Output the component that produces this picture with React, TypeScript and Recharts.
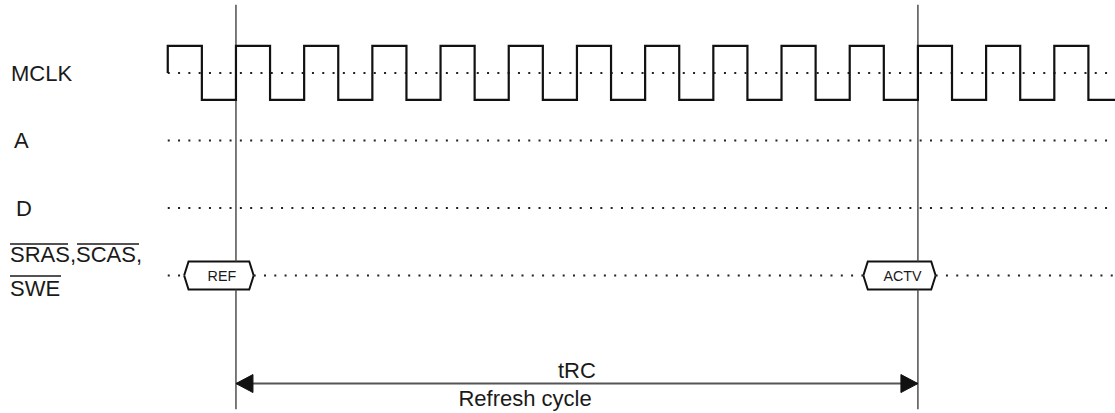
import React from 'react';
import { ComposedChart, Line, Area, XAxis, YAxis, Scatter } from 'recharts';

// time axis in clock cycles (0 = first marked rising edge)
const xDomain = [-3.46, 12.89];
const yDomain = [-12.59, 2.7];

// signal rows
const rowNames = ['MCLK', 'A', 'D', 'SRAS,SCAS,SWE'];
const rowLevels = [0, -2.5, -5, -7.5];
const traceStart = -1;
const traceEnd = 12.89;

// MCLK waveform (edge times and levels)
const clockTimes = [-1, -1, -0.5, 0, 0.5, 1, 1.5, 2, 2.5, 3, 3.5, 4, 4.5, 5, 5.5, 6, 6.5, 7, 7.5, 8, 8.5, 9, 9.5, 10, 10.5, 11, 11.5, 12, 12.5, 12.89];
const clockLevels = [0, 1, -1, 1, -1, 1, -1, 1, -1, 1, -1, 1, -1, 1, -1, 1, -1, 1, -1, 1, -1, 1, -1, 1, -1, 1, -1, 1, -1, -1];

// bus commands on SRAS/SCAS/SWE
const busLabels = ['REF', 'ACTV'];
const busStarts = [-0.76, 9.2];
const busEnds = [0.26, 10.26];

// timing markers
const markerTimes = [0, 10];
const markerTop = 2.52;
const markerBottom = -12.45;
const spanLabel = 'tRC';
const spanCaption = 'Refresh cycle';
const spanStart = 0;
const spanEnd = 10;
const spanLevel = -11.5;
const spanLabelT = 5;
const spanCaptionT = 4.24;

const FONT = '"Liberation Sans", Arial, Helvetica, sans-serif';
const HEX_H = 0.52;
const HEX_IN = 0.065;

const clockData = clockTimes.map((t, i) => ({ t, y: clockLevels[i] }));

const busLevel = rowLevels[3];

const dottedRows = rowLevels.map((lv, i) => {
  if (i !== 3) {
    return [{ t: traceStart, y: lv }, { t: traceEnd, y: lv }];
  }
  const pts: any[] = [{ t: traceStart, y: lv }];
  busStarts.forEach((s, k) => {
    pts.push({ t: s, y: lv });
    pts.push({ t: (s + busEnds[k]) / 2, y: null });
    pts.push({ t: busEnds[k], y: lv });
  });
  pts.push({ t: traceEnd, y: lv });
  return pts;
});

const hexData = busStarts.map((s, k) => {
  const e = busEnds[k];
  return [
    { t: s, r: [busLevel, busLevel] },
    { t: s + HEX_IN, r: [busLevel - HEX_H, busLevel + HEX_H] },
    { t: e - HEX_IN, r: [busLevel - HEX_H, busLevel + HEX_H] },
    { t: e, r: [busLevel, busLevel] },
  ];
});

const markerData = markerTimes.map((m) => [
  { t: m, y: markerTop },
  { t: m, y: busLevel + HEX_H },
  { t: m, y: null },
  { t: m, y: busLevel - HEX_H },
  { t: m, y: markerBottom },
]);

const busTextData = busLabels.map((label, k) => ({ t: (busStarts[k] + busEnds[k]) / 2, y: busLevel, label }));

const rowLabelData = rowNames.map((name, i) => ({ t: xDomain[0], y: rowLevels[i], name }));

const spanTextData = [
  { t: spanLabelT, y: spanLevel, label: spanLabel, pos: 'above' },
  { t: spanCaptionT, y: spanLevel, label: spanCaption, pos: 'below' },
];

const arrowData = [
  { t: spanStart, y: spanLevel, dir: -1 },
  { t: spanEnd, y: spanLevel, dir: 1 },
];

const labelDx: Record<string, number> = { MCLK: 11, A: 14, D: 16 };

const RowLabel = (props: any) => {
  const { cx, cy, payload } = props;
  const name = payload.name;
  const common = { fontFamily: FONT, fontSize: 22, fill: '#1a1a1a' } as any;
  if (name.startsWith('SRAS')) {
    const x0 = cx + 10;
    const b1 = cy - 13.5;
    const b2 = cy + 20.5;
    return (
      <g>
        <text x={x0} y={b1} {...common}>SRAS,SCAS,</text>
        <text x={x0} y={b2} {...common}>SWE</text>
        <line x1={x0} x2={x0 + 58} y1={b1 - 18} y2={b1 - 18} stroke="#1a1a1a" strokeWidth={1.5} />
        <line x1={x0 + 67} x2={x0 + 129} y1={b1 - 18} y2={b1 - 18} stroke="#1a1a1a" strokeWidth={1.5} />
        <line x1={x0} x2={x0 + 51} y1={b2 - 20} y2={b2 - 20} stroke="#1a1a1a" strokeWidth={1.5} />
      </g>
    );
  }
  return (
    <text x={cx + (labelDx[name] ?? 11)} y={cy + 8} {...common}>
      {name}
    </text>
  );
};

const BusText = (props: any) => {
  const { cx, cy, payload } = props;
  return (
    <text x={cx + 3} y={cy + 5} textAnchor="middle" fontFamily={FONT} fontSize={14.3} fill="#1a1a1a">
      {payload.label}
    </text>
  );
};

const SpanText = (props: any) => {
  const { cx, cy, payload } = props;
  return (
    <text
      x={cx}
      y={payload.pos === 'above' ? cy - 6 : cy + 22}
      textAnchor="middle"
      fontFamily={FONT}
      fontSize={22}
      fill="#1a1a1a"
    >
      {payload.label}
    </text>
  );
};

const ArrowHead = (props: any) => {
  const { cx, cy, payload } = props;
  const d = payload.dir;
  const L = 17;
  const H = 9;
  const pts = `${cx},${cy} ${cx - d * L},${cy - H} ${cx - d * L},${cy + H}`;
  return <polygon points={pts} fill="#111" stroke="#111" strokeWidth={1} strokeLinejoin="round" />;
};

export default function App() {
  return (
    <div style={{ position: 'absolute', left: 0, top: 0, width: 1115, height: 413, background: '#fff' }}>
      <ComposedChart width={1115} height={413} margin={{ top: 0, right: 0, bottom: 0, left: 0 }}>
        <XAxis dataKey="t" type="number" domain={xDomain} hide allowDataOverflow />
        <YAxis type="number" domain={yDomain} hide allowDataOverflow />
        {hexData.map((d, i) => (
          <Area
            key={'hex' + i}
            data={d}
            dataKey="r"
            type="linear"
            stroke="#111"
            strokeWidth={2}
            fill="#fff"
            fillOpacity={1}
            dot={false}
            activeDot={false}
            isAnimationActive={false}
          />
        ))}
        {dottedRows.map((d, i) => (
          <Line
            key={'row' + i}
            data={d}
            dataKey="y"
            stroke="#222"
            strokeWidth={2}
            strokeDasharray="2 8.3"
            dot={false}
            activeDot={false}
            connectNulls={false}
            isAnimationActive={false}
            type="linear"
          />
        ))}
        {markerData.map((d, i) => (
          <Line
            key={'m' + i}
            data={d}
            dataKey="y"
            type="linear"
            stroke="#444"
            strokeWidth={1.4}
            dot={false}
            activeDot={false}
            connectNulls={false}
            isAnimationActive={false}
          />
        ))}
        <Line
          data={clockData}
          dataKey="y"
          type="stepAfter"
          stroke="#111"
          strokeWidth={2.2}
          dot={false}
          activeDot={false}
          isAnimationActive={false}
        />
        <Line
          data={[{ t: spanStart, y: spanLevel }, { t: spanEnd, y: spanLevel }]}
          dataKey="y"
          type="linear"
          stroke="#555"
          strokeWidth={2}
          dot={false}
          activeDot={false}
          isAnimationActive={false}
        />
        <Scatter data={arrowData} dataKey="y" shape={<ArrowHead />} isAnimationActive={false} />
        <Scatter data={busTextData} dataKey="y" shape={<BusText />} isAnimationActive={false} />
        <Scatter data={spanTextData} dataKey="y" shape={<SpanText />} isAnimationActive={false} />
        <Scatter data={rowLabelData} dataKey="y" shape={<RowLabel />} isAnimationActive={false} />
      </ComposedChart>
    </div>
  );
}
